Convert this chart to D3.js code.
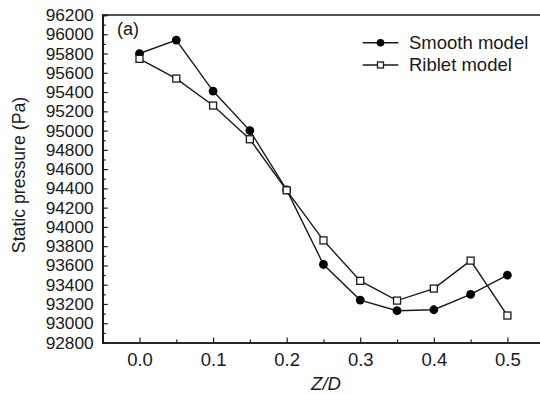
<!DOCTYPE html>
<html><head><meta charset="utf-8">
<script src="https://cdn.jsdelivr.net/npm/d3@7"></script>
<style>
html,body{margin:0;padding:0;background:#fff;}
svg{display:block;font-family:"Liberation Sans",Arial,sans-serif;}
</style></head>
<body>
<svg id="chart" width="540" height="394"></svg>
<script>
const zd = [0.0, 0.05, 0.1, 0.15, 0.2, 0.25, 0.3, 0.35, 0.4, 0.45, 0.5];
const smooth = [95800, 95940, 95410, 95000, 94385, 93610, 93240, 93130, 93140, 93300, 93500];
const riblet = [95745, 95540, 95260, 94910, 94380, 93860, 93440, 93235, 93360, 93650, 93080];
const seriesNames = ["Smooth model", "Riblet model"];
const yTicks = [92800, 93000, 93200, 93400, 93600, 93800, 94000, 94200, 94400, 94600, 94800, 95000, 95200, 95400, 95600, 95800, 96000, 96200];
const xTicks = [0.0, 0.1, 0.2, 0.3, 0.4, 0.5];

const svg = d3.select("#chart");
const ink = "#1a1a1a";
const L = 102.7, R = 544.2, T = 15, B = 342.5;
const x = d3.scaleLinear().domain([-0.05, 0.55]).range([L, R]);
const y = d3.scaleLinear().domain([92800, 96200]).range([B, T]);

// frame (left + top)
svg.append("path").attr("d", `M${L},${B}V${T}H${R}`).attr("fill", "none").attr("stroke", ink).attr("stroke-width", 1.5);

// y axis
const yMinor = d3.range(92900, 96200, 200);
const gy = svg.append("g").attr("transform", `translate(${L},0)`);
gy.call(d3.axisLeft(y).tickValues(yTicks).tickSize(-5).tickPadding(9).tickFormat(d3.format("d")));
const gy2 = svg.append("g").attr("transform", `translate(${L},0)`);
gy2.call(d3.axisLeft(y).tickValues(yMinor).tickSize(-3).tickFormat(""));
[gy, gy2].forEach(g => {
  g.select(".domain").attr("stroke", ink).attr("stroke-width", 1.5);
  g.selectAll(".tick line").attr("stroke", ink).attr("stroke-width", 1.2);
  g.selectAll("text").attr("fill", ink).style("font-size", "17.3px").style("font-family", '"Liberation Sans",Arial,sans-serif');
});

// x axis
const xMinor = [-0.05, 0.05, 0.15, 0.25, 0.35, 0.45, 0.55];
const gx = svg.append("g").attr("transform", `translate(0,${B})`);
gx.call(d3.axisBottom(x).tickValues(xTicks).tickSize(-5).tickPadding(10.5).tickFormat(d3.format(".1f")));
const gx2 = svg.append("g").attr("transform", `translate(0,${B})`);
gx2.call(d3.axisBottom(x).tickValues(xMinor).tickSize(-3).tickFormat(""));
[gx, gx2].forEach(g => {
  g.select(".domain").attr("stroke", ink).attr("stroke-width", 1.5);
  g.selectAll(".tick line").attr("stroke", ink).attr("stroke-width", 1.2);
  g.selectAll("text").attr("fill", ink).style("font-size", "18.5px").style("font-family", '"Liberation Sans",Arial,sans-serif');
});

// axis titles
svg.append("text").attr("transform", "translate(25,175) rotate(-90)").attr("text-anchor", "middle")
  .attr("fill", ink).style("font-size", "17.7px").text("Static pressure (Pa)");
svg.append("text").attr("x", 326).attr("y", 390).attr("text-anchor", "middle")
  .attr("fill", ink).style("font-size", "18.5px").style("font-style", "italic").text("Z/D");
svg.append("text").attr("x", 117).attr("y", 35).attr("fill", ink).style("font-size", "18px").text("(a)");

// lines
const line = d3.line().x(d => x(d[0])).y(d => y(d[1]));
const sData = zd.map((v, i) => [v, smooth[i]]);
const rData = zd.map((v, i) => [v, riblet[i]]);
svg.append("path").datum(sData).attr("d", line).attr("fill", "none").attr("stroke", ink).attr("stroke-width", 1.4);
svg.append("path").datum(rData).attr("d", line).attr("fill", "none").attr("stroke", ink).attr("stroke-width", 1.4);

svg.selectAll("circle.s").data(sData).join("circle").attr("class", "s")
  .attr("cx", d => x(d[0])).attr("cy", d => y(d[1])).attr("r", 4.4).attr("fill", "#000");
svg.selectAll("rect.r").data(rData).join("rect").attr("class", "r")
  .attr("x", d => x(d[0]) - 3.5).attr("y", d => y(d[1]) - 3.5).attr("width", 7).attr("height", 7)
  .attr("fill", "#fff").attr("stroke", ink).attr("stroke-width", 1.3);

// legend
const lg = svg.append("g");
const rows = [42.7, 65];
rows.forEach((ry, i) => {
  lg.append("line").attr("x1", 362.7).attr("x2", 398.3).attr("y1", ry).attr("y2", ry).attr("stroke", ink).attr("stroke-width", 1.4);
  if (i === 0) lg.append("circle").attr("cx", 380.5).attr("cy", ry).attr("r", 3.8).attr("fill", "#000");
  else lg.append("rect").attr("x", 377.5).attr("y", ry - 3).attr("width", 6).attr("height", 6).attr("fill", "#fff").attr("stroke", ink).attr("stroke-width", 1.3);
  lg.append("text").attr("x", 409).attr("y", ry).attr("dy", "0.35em").attr("fill", ink).style("font-size", "18.5px").text(seriesNames[i]);
});
</script>
</body></html>
